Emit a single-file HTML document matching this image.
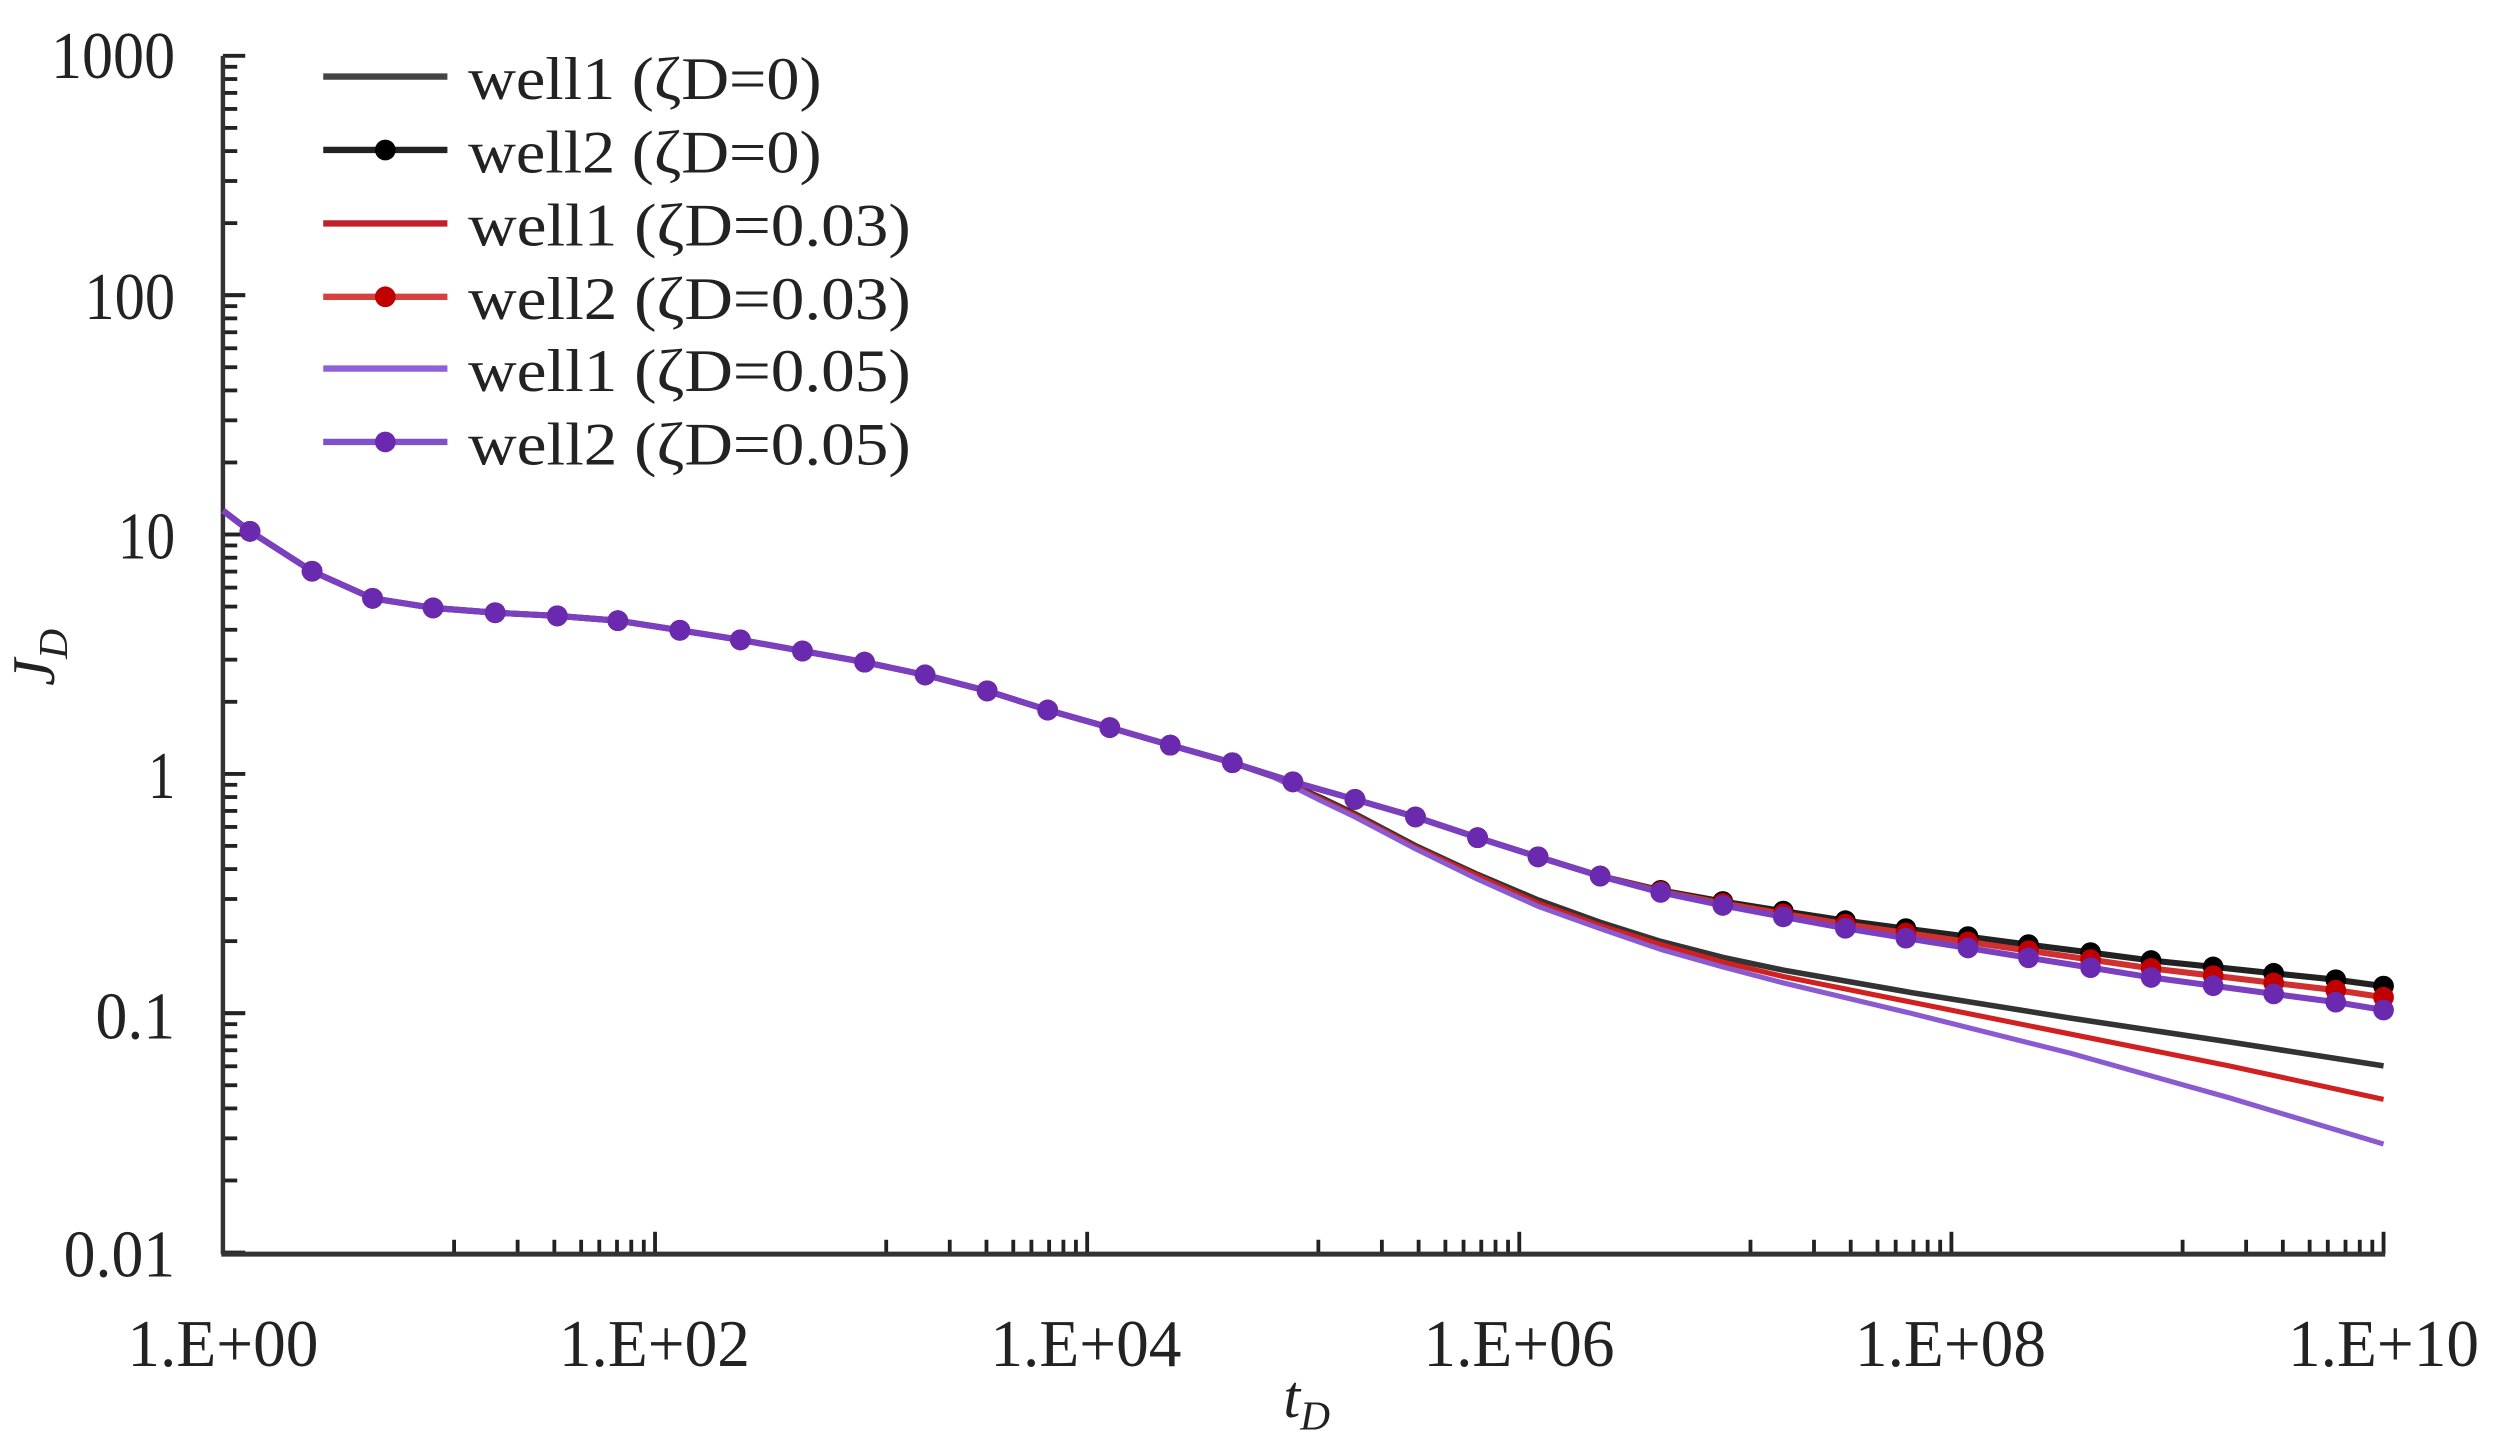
<!DOCTYPE html>
<html><head><meta charset="utf-8"><style>
html,body{margin:0;padding:0;background:#fff;}
svg{display:block;}
text{font-family:"Liberation Serif",serif;fill:#222;}
</style></head><body>
<svg id="s" width="2495" height="1444" viewBox="0 0 1567 905" preserveAspectRatio="none" xmlns="http://www.w3.org/2000/svg">
<g id="ticks" stroke="#222" stroke-width="2.4"></g>
<line x1="140" y1="35" x2="140" y2="786" stroke="#333" stroke-width="2.8"/>
<line x1="139" y1="786" x2="1498" y2="786" stroke="#333" stroke-width="3.2"/>
<g font-size="42" text-anchor="end" lengthAdjust="spacingAndGlyphs">
<text x="110" y="49" textLength="78" lengthAdjust="spacingAndGlyphs">1000</text>
<text x="110" y="200" textLength="57" lengthAdjust="spacingAndGlyphs">100</text>
<text x="110" y="350" textLength="36" lengthAdjust="spacingAndGlyphs">10</text>
<text x="110" y="500" textLength="17" lengthAdjust="spacingAndGlyphs">1</text>
<text x="110" y="651" textLength="50" lengthAdjust="spacingAndGlyphs">0.1</text>
<text x="110" y="800" textLength="70" lengthAdjust="spacingAndGlyphs">0.01</text>
</g>
<g font-size="42" text-anchor="middle">
<text x="140" y="856" textLength="120" lengthAdjust="spacingAndGlyphs">1.E+00</text>
<text x="411" y="856" textLength="120" lengthAdjust="spacingAndGlyphs">1.E+02</text>
<text x="682" y="856" textLength="120" lengthAdjust="spacingAndGlyphs">1.E+04</text>
<text x="954" y="856" textLength="120" lengthAdjust="spacingAndGlyphs">1.E+06</text>
<text x="1225" y="856" textLength="120" lengthAdjust="spacingAndGlyphs">1.E+08</text>
<text x="1497" y="856" textLength="120" lengthAdjust="spacingAndGlyphs">1.E+10</text>
</g>
<text x="806" y="888" font-size="38" font-style="italic">t<tspan font-size="26" dy="8">D</tspan></text>
<text transform="translate(34,412) rotate(-90)" font-size="38" font-style="italic" text-anchor="middle">J<tspan font-size="26" dy="8">D</tspan></text>
<g id="series" fill="none" stroke-linejoin="round"></g>
<g font-size="38">
<line x1="203" y1="48" x2="281" y2="48" stroke="#444" stroke-width="4"/>
<text x="294" y="62" textLength="222" lengthAdjust="spacingAndGlyphs">well1 (ζD=0)</text>
<line x1="203" y1="94" x2="281" y2="94" stroke="#222" stroke-width="4"/><circle cx="242" cy="94" r="6.5" fill="#000"/>
<text x="294" y="108" textLength="222" lengthAdjust="spacingAndGlyphs">well2 (ζD=0)</text>
<line x1="203" y1="140" x2="281" y2="140" stroke="#c0202a" stroke-width="4"/>
<text x="294" y="154" textLength="278" lengthAdjust="spacingAndGlyphs">well1 (ζD=0.03)</text>
<line x1="203" y1="186" x2="281" y2="186" stroke="#d84040" stroke-width="4"/><circle cx="242" cy="186" r="6.5" fill="#c00000"/>
<text x="294" y="200" textLength="278" lengthAdjust="spacingAndGlyphs">well2 (ζD=0.03)</text>
<line x1="203" y1="231" x2="281" y2="231" stroke="#9060d8" stroke-width="4"/>
<text x="294" y="245" textLength="278" lengthAdjust="spacingAndGlyphs">well1 (ζD=0.05)</text>
<line x1="203" y1="277" x2="281" y2="277" stroke="#8050c8" stroke-width="4"/><circle cx="242" cy="277" r="6.5" fill="#6a28b0"/>
<text x="294" y="291" textLength="278" lengthAdjust="spacingAndGlyphs">well2 (ζD=0.05)</text>
</g>
</svg>
<script>
var NS="http://www.w3.org/2000/svg";
function el(p,n,a){var e=document.createElementNS(NS,n);for(var k in a)e.setAttribute(k,a[k]);p.appendChild(e);return e;}
var tg=document.getElementById('ticks');
var y0=785,dy=150.;
for(var d=0;d<5;d++){for(var m=1;m<=10;m++){var y=y0-dy*(d+Math.log10(m));var L=(m==1||m==10)?14:9;el(tg,'line',{x1:140,x2:140+L,y1:y,y2:y});}}
var fr=[.535,.682,.767,.829,.871,.912,.945,.974,1];
var span=(1497-140)/5;
for(var d=0;d<5;d++){fr.forEach(function(f,i){var x=140+span*(d+f);var L=(i==8)?14:9;el(tg,'line',{x1:x,x2:x,y1:786,y2:786-L});});}
var base=[[140,320],[157,333],[196,358],[234,375],[272,381],[311,384],[350,386],[388,389],[427,395],[465,401],[504,408],[543,415],[581,423],[620,433],[658,445],[697,456],[735,467],[774,478],[812,490],[851,501],[889,512],[928,525],[966,537],[1005,549],[1043,558],[1082,565],[1120,571],[1159,577],[1197,582],[1236,587],[1274,592],[1313,597],[1351,602],[1390,606],[1428,610],[1467,614],[1497,618]];
function off(pts,k){return pts.map(function(p){var o=p[0]>1000?(p[0]-1000)/497*k:0;return [p[0],p[1]+o];});}
var head=base.filter(function(p){return p[0]<=774;});
var w1b=head.concat([[800,487],[830,500],[851,510],[889,530],[928,548],[966,564],[1005,578],[1043,590],[1082,600],[1120,608],[1200,622],[1300,638],[1400,653],[1497,668]]);
var w1r=head.concat([[800,487],[830,501],[851,511],[889,531],[928,549],[966,566],[1005,580],[1043,592],[1082,603],[1120,612],[1200,628],[1300,648],[1400,668],[1497,689]]);
var w1p=head.concat([[800,487],[830,502],[851,512],[889,532],[928,551],[966,568],[1005,582],[1043,595],[1082,606],[1120,616],[1200,635],[1300,660],[1400,688],[1497,717]]);
var sg=document.getElementById('series');
function line(pts,c,w){el(sg,'polyline',{points:pts.map(function(p){return p.join(',')}).join(' '),stroke:c,'stroke-width':w});}
function marks(pts,c){pts.forEach(function(p,i){if(i>0)el(sg,'circle',{cx:p[0],cy:p[1],r:6.5,fill:c,stroke:'none'});});}
line(w1b,'#333',3.5);line(w1r,'#d02020',3.2);line(w1p,'#8a5ad0',3.2);
var b=base,r=off(base,7),p=off(base,15);
line(b,'#222',3.8);marks(b,'#000');
line(r,'#d03030',3.8);marks(r,'#c00000');
line(p,'#7a40c0',3.8);marks(p,'#6a2ab0');
</script>
</body></html>
